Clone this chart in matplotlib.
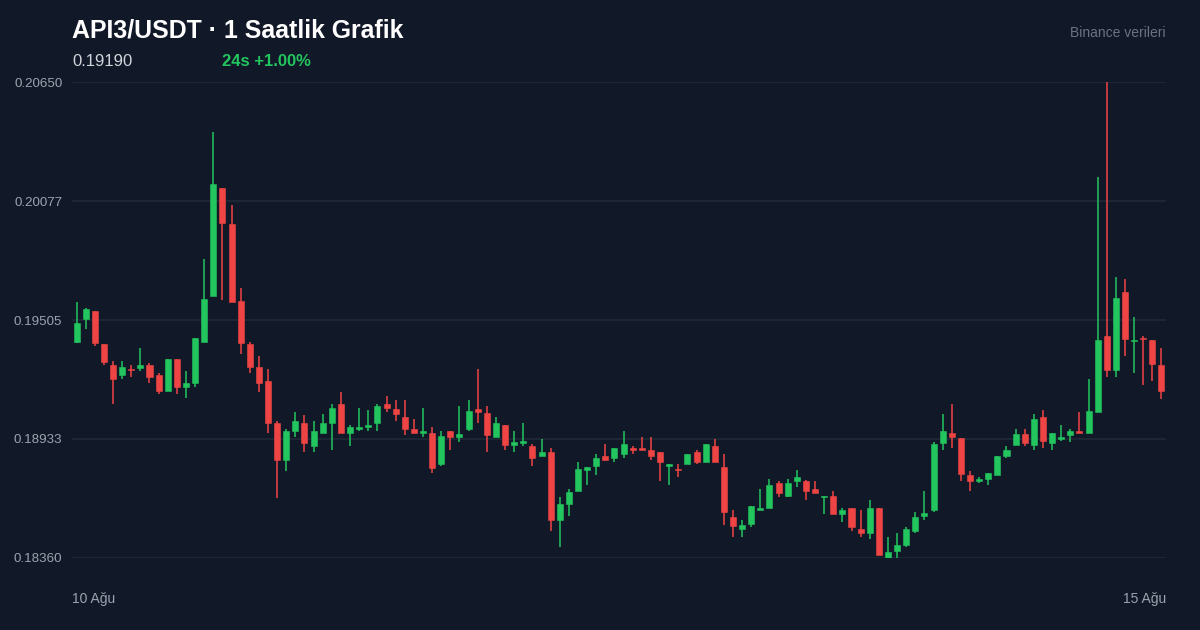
import numpy as np
import matplotlib
matplotlib.use("Agg")
import matplotlib.pyplot as plt

# hourly candles, 10 Ağu -> 15 Ağu (120 bars)
opens = [
    0.19401, 0.19511, 0.19548, 0.19388, 0.19289, 0.19241, 0.19271, 0.19273, 0.19287, 0.19239,
    0.19162, 0.19319, 0.19182, 0.19201, 0.19401, 0.19622, 0.20139, 0.19968, 0.19598, 0.19390,
    0.19278, 0.19210, 0.19008, 0.18832, 0.18971, 0.19008, 0.18901, 0.18960, 0.19011, 0.19101,
    0.18962, 0.18980, 0.18992, 0.19011, 0.19100, 0.19079, 0.19039, 0.18980, 0.18963, 0.18960,
    0.18811, 0.18970, 0.18942, 0.18981, 0.19079, 0.19059, 0.18941, 0.18999, 0.18903, 0.18914,
    0.18901, 0.18853, 0.18870, 0.18542, 0.18622, 0.18681, 0.18782, 0.18802, 0.18850, 0.18841,
    0.18862, 0.18890, 0.18890, 0.18880, 0.18869, 0.18804, 0.18790, 0.18811, 0.18869, 0.18821,
    0.18899, 0.18800, 0.18559, 0.18501, 0.18523, 0.18593, 0.18601, 0.18720, 0.18660, 0.18732,
    0.18729, 0.18691, 0.18652, 0.18659, 0.18572, 0.18600, 0.18500, 0.18482, 0.18600, 0.18360,
    0.18393, 0.18421, 0.18492, 0.18561, 0.18591, 0.18912, 0.18960, 0.18939, 0.18760, 0.18732,
    0.18742, 0.18761, 0.18853, 0.18903, 0.18958, 0.18903, 0.19039, 0.18912, 0.18931, 0.18951,
    0.18971, 0.18963, 0.19061, 0.19428, 0.19263, 0.19638, 0.19403, 0.19420, 0.19409, 0.19289,
]
highs = [
    0.19590, 0.19561, 0.19548, 0.19388, 0.19309, 0.19309, 0.19289, 0.19369, 0.19300, 0.19250,
    0.19319, 0.19319, 0.19260, 0.19419, 0.19800, 0.20410, 0.20142, 0.20058, 0.19659, 0.19399,
    0.19332, 0.19270, 0.19019, 0.18980, 0.19061, 0.19050, 0.19019, 0.19052, 0.19101, 0.19160,
    0.19000, 0.19081, 0.19071, 0.19101, 0.19140, 0.19120, 0.19120, 0.19029, 0.19081, 0.18989,
    0.18971, 0.18970, 0.19090, 0.19120, 0.19270, 0.19090, 0.19040, 0.18999, 0.18971, 0.19010,
    0.18910, 0.18931, 0.18890, 0.18652, 0.18691, 0.18821, 0.18800, 0.18861, 0.18910, 0.18890,
    0.18971, 0.18901, 0.18941, 0.18941, 0.18869, 0.18811, 0.18811, 0.18859, 0.18880, 0.18910,
    0.18931, 0.18861, 0.18591, 0.18542, 0.18611, 0.18691, 0.18740, 0.18731, 0.18740, 0.18781,
    0.18735, 0.18731, 0.18659, 0.18681, 0.18601, 0.18600, 0.18590, 0.18641, 0.18600, 0.18461,
    0.18479, 0.18511, 0.18580, 0.18681, 0.18920, 0.19052, 0.19101, 0.18939, 0.18780, 0.18750,
    0.18768, 0.18850, 0.18899, 0.18980, 0.18980, 0.19052, 0.19071, 0.18960, 0.19000, 0.18980,
    0.19061, 0.19221, 0.20192, 0.20650, 0.19711, 0.19701, 0.19520, 0.19430, 0.19409, 0.19371,
]
lows = [
    0.19393, 0.19460, 0.19382, 0.19290, 0.19101, 0.19221, 0.19232, 0.19261, 0.19201, 0.19151,
    0.19162, 0.19151, 0.19131, 0.19182, 0.19401, 0.19622, 0.19601, 0.19590, 0.19340, 0.19252,
    0.19160, 0.18960, 0.18650, 0.18780, 0.18941, 0.18872, 0.18872, 0.18960, 0.18880, 0.18960,
    0.18901, 0.18971, 0.18971, 0.18971, 0.19061, 0.19021, 0.18951, 0.18960, 0.18941, 0.18771,
    0.18802, 0.18880, 0.18920, 0.18971, 0.19011, 0.18872, 0.18941, 0.18881, 0.18872, 0.18901,
    0.18802, 0.18853, 0.18492, 0.18412, 0.18561, 0.18681, 0.18712, 0.18761, 0.18830, 0.18822,
    0.18843, 0.18862, 0.18881, 0.18832, 0.18732, 0.18712, 0.18752, 0.18811, 0.18811, 0.18821,
    0.18821, 0.18521, 0.18461, 0.18461, 0.18511, 0.18593, 0.18601, 0.18652, 0.18652, 0.18700,
    0.18641, 0.18673, 0.18572, 0.18572, 0.18532, 0.18492, 0.18463, 0.18452, 0.18372, 0.18360,
    0.18362, 0.18412, 0.18482, 0.18542, 0.18582, 0.18880, 0.18891, 0.18732, 0.18681, 0.18721,
    0.18712, 0.18761, 0.18843, 0.18903, 0.18901, 0.18881, 0.18891, 0.18881, 0.18922, 0.18920,
    0.18962, 0.18963, 0.19061, 0.19231, 0.19231, 0.19331, 0.19252, 0.19193, 0.19212, 0.19124,
]
closes = [
    0.19489, 0.19558, 0.19393, 0.19302, 0.19221, 0.19278, 0.19265, 0.19289, 0.19232, 0.19162,
    0.19319, 0.19182, 0.19201, 0.19419, 0.19608, 0.20158, 0.19972, 0.19590, 0.19393, 0.19281,
    0.19204, 0.19011, 0.18832, 0.18970, 0.19019, 0.18912, 0.18970, 0.19010, 0.19081, 0.18960,
    0.18989, 0.18989, 0.18999, 0.19090, 0.19082, 0.19053, 0.18981, 0.18962, 0.18971, 0.18792,
    0.18949, 0.18942, 0.18958, 0.19069, 0.19061, 0.18952, 0.19010, 0.18903, 0.18920, 0.18922,
    0.18843, 0.18870, 0.18542, 0.18620, 0.18679, 0.18790, 0.18800, 0.18840, 0.18830, 0.18890,
    0.18909, 0.18881, 0.18881, 0.18853, 0.18822, 0.18811, 0.18782, 0.18859, 0.18821, 0.18910,
    0.18821, 0.18583, 0.18513, 0.18519, 0.18611, 0.18600, 0.18710, 0.18672, 0.18720, 0.18749,
    0.18684, 0.18673, 0.18659, 0.18572, 0.18590, 0.18511, 0.18482, 0.18600, 0.18372, 0.18389,
    0.18421, 0.18500, 0.18559, 0.18578, 0.18910, 0.18970, 0.18944, 0.18763, 0.18731, 0.18740,
    0.18768, 0.18850, 0.18880, 0.18958, 0.18912, 0.19029, 0.18922, 0.18960, 0.18941, 0.18970,
    0.18962, 0.19069, 0.19409, 0.19263, 0.19610, 0.19412, 0.19409, 0.19412, 0.19292, 0.19162,
]

y_ticks = [0.18360, 0.18933, 0.19505, 0.20077, 0.20650]
x_labels = ["10 Ağu", "15 Ağu"]
title = "API3/USDT · 1 Saatlik Grafik"
last_price = "0.19190"
change_text = "24s +1.00%"
source_text = "Binance verileri"

BG = "#111827"
GRID = "#1f2937"
UP = "#22c55e"
DOWN = "#ef4444"

plt.rcParams["font.family"] = ["Liberation Sans", "DejaVu Sans"]

o = np.array(opens)
h = np.array(highs)
l = np.array(lows)
c = np.array(closes)
x = np.arange(len(o))
colors = np.where(c >= o, UP, DOWN)

fig = plt.figure(figsize=(12, 6.3), dpi=100, facecolor=BG)
ax = fig.add_axes([0.06, 0.1143, 0.9117, 0.7555])
ax.set_facecolor(BG)

# wicks then bodies
ax.vlines(x, l, h, colors=colors, linewidth=1.1, zorder=2)
body_bottom = np.minimum(o, c)
body_height = np.maximum(np.abs(c - o), 0.00006)
ax.bar(x, body_height, bottom=body_bottom, width=0.66, color=colors,
       edgecolor=colors, linewidth=0.4, zorder=3)

ax.set_xlim(-0.5, len(o) - 0.5)
ax.set_ylim(y_ticks[0], y_ticks[-1])
ax.set_yticks(y_ticks)
ax.set_yticklabels([f"{v:.5f}" for v in y_ticks])
ax.grid(axis="y", color=GRID, linewidth=1.2, zorder=0)
ax.set_xticks([])
for s in ax.spines.values():
    s.set_visible(False)
ax.tick_params(axis="y", length=0, pad=7, labelsize=9.6, labelcolor="#9ca3af")

# header
fig.text(0.06, 0.951, title, color="white", fontsize=17.9, fontweight="bold",
         va="center", ha="left")
fig.text(0.06, 0.903, last_price, color="#d1d5db", fontsize=12,
         va="center", ha="left")
fig.text(0.185, 0.903, change_text, color=UP, fontsize=12, fontweight="bold",
         va="center", ha="left")
fig.text(0.9717, 0.948, source_text, color="#6b7280", fontsize=10,
         va="center", ha="right")

# x labels
fig.text(0.06, 0.049, x_labels[0], color="#9ca3af", fontsize=10,
         va="center", ha="left")
fig.text(0.9717, 0.049, x_labels[1], color="#9ca3af", fontsize=10,
         va="center", ha="right")

fig.savefig("out.png", dpi=100, facecolor=BG)
